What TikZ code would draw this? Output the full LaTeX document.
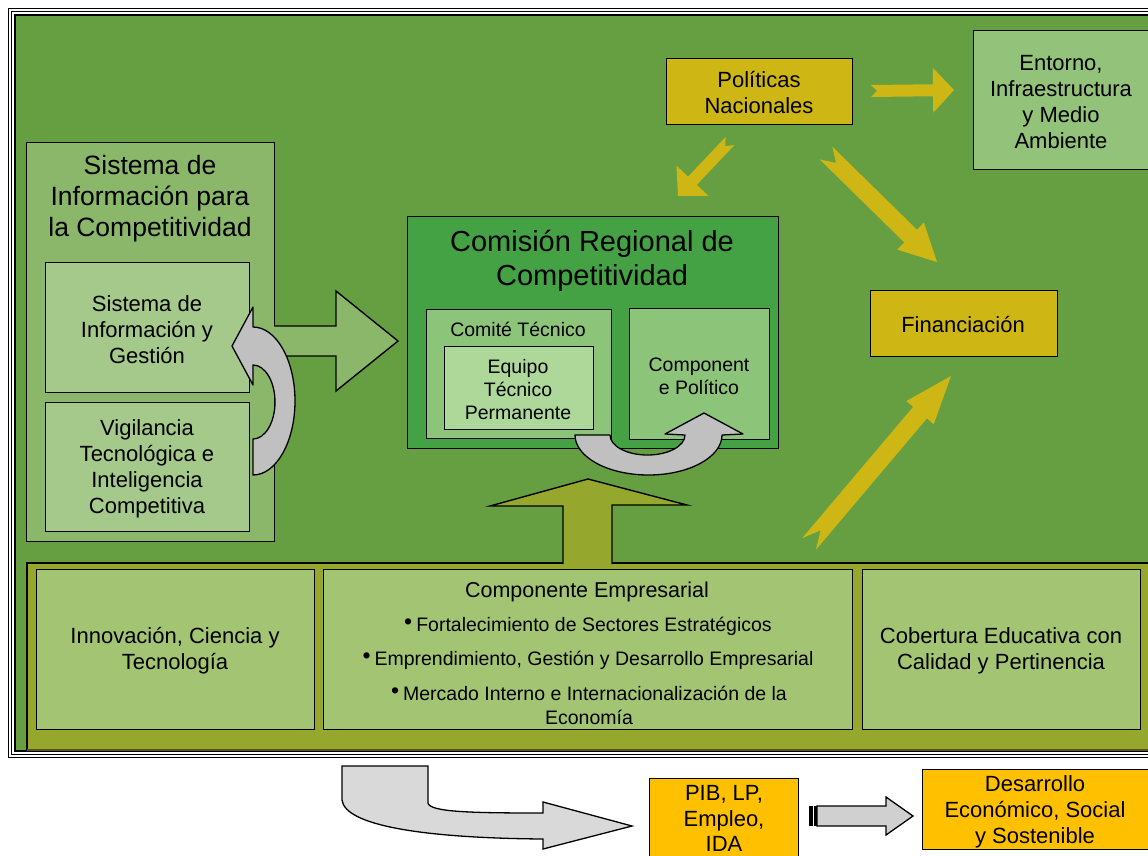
\documentclass[tikz,border=0pt]{standalone}
\usepackage{fontspec}
\setmainfont{Liberation Sans}
\usetikzlibrary{calc}
\definecolor{bggreen}{RGB}{102,159,65}
\definecolor{sysout}{RGB}{139,183,107}
\definecolor{sysin}{RGB}{164,201,139}
\definecolor{crcgreen}{RGB}{68,162,68}
\definecolor{ctgreen}{RGB}{140,197,122}
\definecolor{eqgreen}{RGB}{173,216,154}
\definecolor{curvegray}{RGB}{192,192,192}
\definecolor{ayellow}{RGB}{206,182,20}
\definecolor{entgreen}{RGB}{147,194,122}
\definecolor{olive}{RGB}{150,167,46}
\definecolor{darkolive}{RGB}{88,84,30}
\definecolor{botgreen}{RGB}{163,197,115}
\definecolor{orangebox}{RGB}{255,192,0}
\definecolor{lightgray}{RGB}{217,217,217}
\definecolor{stripgray}{RGB}{208,208,208}
\newcommand\mybul{\raisebox{2.5pt}{\fontsize{23}{23}\selectfont •}\hspace{4pt}}
\newcommand\notcharrow[6]{%
  \coordinate (nb) at ($(#2)!#5!(#1)$);
  \fill[ayellow] ($(#1)!#3!90:(#2)$) -- ($(nb)!#3!90:(#2)$) -- ($(nb)!#4!90:(#2)$) -- (#2)
     -- ($(nb)!#4!-90:(#2)$) -- ($(nb)!#3!-90:(#2)$) -- ($(#1)!#3!-90:(#2)$) -- ($(#1)!#6!(#2)$) -- cycle;}
\begin{document}
\begin{tikzpicture}[x=1pt,y=-1pt,
  box/.style={draw=black, line width=1.4pt, inner sep=0pt, anchor=north west},
  tt/.style={align=center, inner sep=0pt, yshift=-1.5pt, font=\fontsize{22}{26}\selectfont},
  ts/.style={align=center, inner sep=0pt, yshift=-1.5pt, font=\fontsize{19.5}{23}\selectfont},
  tb/.style={align=center, inner sep=0pt, yshift=-3pt, font=\fontsize{26.5}{31}\selectfont},
  th/.style={align=center, inner sep=0pt, yshift=-3pt, font=\fontsize{29}{34}\selectfont},
  tl/.style={align=center, inner sep=0pt, yshift=-1.5pt, font=\fontsize{19.5}{24}\selectfont},
  curve/.style={draw=black, line width=1.3pt, fill=curvegray, line join=round}]
\useasboundingbox (0,0) rectangle (1148,855);
\fill[white] (0,0) rectangle (1148,855);
% frame
\draw[line width=0.8pt] (8,8) rectangle (1175,757);
\draw[line width=0.8pt] (11.5,11.5) rectangle (1175,754);
\draw[fill=bggreen, line width=2pt] (15,15) rectangle (1175,751);

% Sistema de Informacion
\node[box, fill=sysout, minimum width=248pt, minimum height=399pt] (sysbox) at (26,142) {};
\node[tb] (systxt) at (150,196) {Sistema de\\Información para\\la Competitividad};
\node[box, fill=sysin, minimum width=204pt, minimum height=130pt] (sigbox) at (45,262) {};
\node[tt] (sigtxt) at (147,328) {Sistema de\\Información y\\Gestión};
\node[box, fill=sysin, minimum width=204pt, minimum height=129pt] (vigbox) at (45,402) {};
\node[tt] (vigtxt) at (147,467) {Vigilancia\\Tecnológica e\\Inteligencia\\Competitiva};

% big green arrow
\fill[sysout] (271,326) -- (336,326) -- (336,291) -- (398,341) -- (336,391) -- (336,356) -- (271,356) -- cycle;
\draw[line width=1.4pt, line join=miter] (274,326) -- (336,326) -- (336,291) -- (398,341) -- (336,391) -- (336,356) -- (274,356);

% left curved gray arrow
\draw[curve] (253,327) arc[start angle=-90, end angle=90, x radius=42, y radius=74]
  -- (253,439) arc[start angle=90, end angle=-90, x radius=22, y radius=37]
  -- (253,385) -- (232,346) -- (253,307) -- cycle;

% Comision Regional
\node[box, fill=crcgreen, minimum width=371pt, minimum height=232pt] (crcbox) at (407,216) {};
\node[th] (crctxt) at (592,258) {Comisión Regional de\\Competitividad};
\node[box, fill=ctgreen, minimum width=185pt, minimum height=129pt] (ctbox) at (426,309) {};
\node[ts] (cttxt) at (518,328) {Comité Técnico};
\node[box, fill=eqgreen, minimum width=149pt, minimum height=83pt] (eqbox) at (444,346) {};
\node[ts] (eqtxt) at (518,388) {Equipo\\Técnico\\Permanente};
\node[box, fill=ctgreen, minimum width=140pt, minimum height=131pt] (cpbox) at (629,308) {};
\node[ts] (cptxt) at (699,375) {Component\\e Político};

% bottom curved gray arrow
\draw[curve] (575,435) arc[start angle=180, end angle=0, x radius=73.5, y radius=40]
  -- (743,434) -- (704,413) -- (665,434) -- (685,435)
  arc[start angle=0, end angle=180, x radius=37.5, y radius=20] -- cycle;

% olive band
\draw[fill=olive, line width=1.4pt] (1175,563) -- (27,563) -- (27,751) -- (1175,751);
\draw[darkolive, line width=2pt] (27,750) -- (1175,750);
% olive up arrow
\fill[olive] (563,566) -- (563,506) -- (490,506) -- (588,479) -- (687,505) -- (612,505) -- (612,566) -- cycle;
\draw[line width=1.4pt, line join=miter] (563,564) -- (563,506) -- (490,506) -- (588,479) -- (687,505) -- (612,505) -- (612,564);

\node[box, fill=botgreen, minimum width=278pt, minimum height=160pt] (innbox) at (36,569) {};
\node[tt] (inntxt) at (175,649) {Innovación, Ciencia y\\Tecnología};
\node[box, fill=botgreen, minimum width=529pt, minimum height=160pt] (empbox) at (323,569) {};
\node[tt, font=\fontsize{21.5}{25}\selectfont] (emptitle) at (587,590) {Componente Empresarial};
\node[tl] (empb1) at (588,625) {\mybul Fortalecimiento de Sectores Estratégicos};
\node[tl] (empb2) at (588,659) {\mybul Emprendimiento, Gestión y Desarrollo Empresarial};
\node[tl] (empb3) at (589,704) {\mybul Mercado Interno e Internacionalización de la\\Economía};
\node[box, fill=botgreen, minimum width=278pt, minimum height=160pt] (cobbox) at (862,569) {};
\node[tt] (cobtxt) at (1001,649) {Cobertura Educativa con\\Calidad y Pertinencia};

% Politicas, Entorno, Financiacion
\node[box, fill=ayellow, minimum width=186pt, minimum height=66pt] (polbox) at (666,58) {};
\node[tt] (poltxt) at (759,91) {Políticas\\Nacionales};
\node[box, fill=entgreen, minimum width=190pt, minimum height=139pt] (entbox) at (973,30) {};
\node[tt] (enttxt) at (1061,101) {Entorno,\\Infraestructura\\y Medio\\Ambiente};
\node[box, fill=ayellow, minimum width=187pt, minimum height=66pt] (finbox) at (870,290) {};
\node[tt] (fintxt) at (963,323) {Financiación};

% yellow notched arrows
\coordinate (a1t) at (871,91);  \coordinate (a1h) at (954,90);
\coordinate (a2t) at (730,141); \coordinate (a2h) at (678,196);
\coordinate (a3t) at (826,153); \coordinate (a3h) at (937,262);
\coordinate (a4t) at (809,544); \coordinate (a4h) at (951,376);
\notcharrow{a1t}{a1h}{6pt}{22.5pt}{21pt}{6pt}
\notcharrow{a2t}{a2h}{6pt}{22pt}{21pt}{7pt}
\notcharrow{a3t}{a3h}{9pt}{19pt}{37pt}{14pt}
\notcharrow{a4t}{a4h}{9pt}{18pt}{48pt}{18pt}

% bottom outside elements
\draw[line width=1.3pt, fill=lightgray, line join=miter] (342,766) -- (428,766) -- (428,803)
  .. controls (430,812) and (470,813) .. (543,813) -- (543,802) -- (632,826) -- (543,849) -- (543,839)
  .. controls (420,838) and (345,825) .. (342,800) -- cycle;
\node[box, fill=orangebox, minimum width=149pt, minimum height=110pt] (pibbox) at (649,778) {};
\node[tt, font=\fontsize{22}{25.5}\selectfont] (pibtxt) at (724,817) {PIB, LP,\\Empleo,\\IDA};
\node[box, fill=orangebox, minimum width=250pt, minimum height=80pt] (desbox) at (922,769) {};
\node[tt] (destxt) at (1035,810) {Desarrollo\\Económico, Social\\y Sostenible};
\fill[black] (809,806) rectangle (812.5,826);
\fill[black] (813.8,806) rectangle (816.5,826);
\draw[line width=1.3pt, fill=stripgray, line join=miter] (817,806) -- (886,806) -- (886,797) -- (913,816) -- (886,835) -- (886,826) -- (817,826) -- cycle;
\end{tikzpicture}
\end{document}
